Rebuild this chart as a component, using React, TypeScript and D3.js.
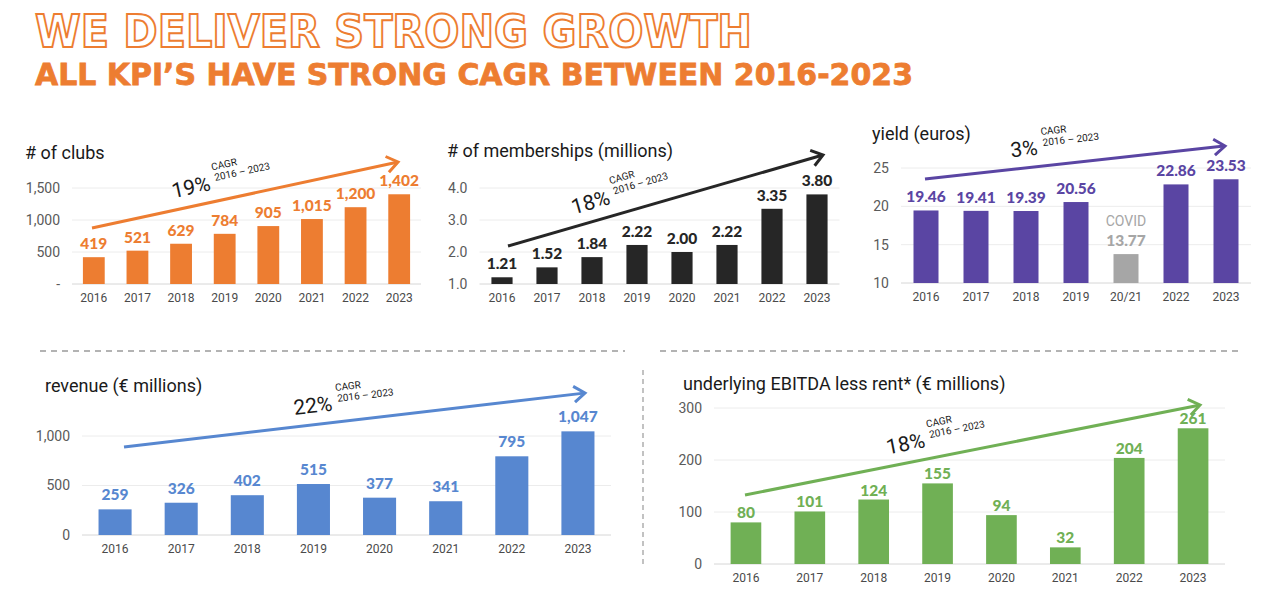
import React from 'react';
import * as d3 from 'd3';

// ---------- DATA ----------
const years = ['2016', '2017', '2018', '2019', '2020', '2021', '2022', '2023'];
const yieldYears = ['2016', '2017', '2018', '2019', '20/21', '2022', '2023'];
const clubs = [419, 521, 629, 784, 905, 1015, 1200, 1402];
const memberships = [1.21, 1.52, 1.84, 2.22, 2.0, 2.22, 3.35, 3.8];
const yields = [19.46, 19.41, 19.39, 20.56, 13.77, 22.86, 23.53];
const revenue = [259, 326, 402, 515, 377, 341, 795, 1047];
const ebitda = [80, 101, 124, 155, 94, 32, 204, 261];

const clubTicks = [0, 500, 1000, 1500];
const membershipTicks = [1, 2, 3, 4];
const yieldTicks = [10, 15, 20, 25];
const revenueTicks = [0, 500, 1000];
const ebitdaTicks = [0, 100, 200, 300];

const cagrValues = ['19%', '18%', '3%', '22%', '18%'];
const cagrPeriod = '2016 – 2023';
const covidCategory = '20/21';
const covidNote = 'COVID';

// ---------- STYLE ----------
const ORANGE = '#ED7D31';
const BLACK = '#262626';
const PURPLE = '#5A45A3';
const GREY = '#A6A6A6';
const BLUE = '#5787D0';
const GREEN = '#70B055';
const AXIS_FONT = 'Roboto, "Noto Sans", sans-serif';
const VALUE_FONT = 'Lato, Roboto, sans-serif';

type PanelProps = {
  title: string;
  titleX: number;
  titleY: number;
  cats: string[];
  values: number[];
  ticks: number[];
  domain: [number, number];
  tickFmt: (d: number) => string;
  valueFmt: (d: number) => string;
  color: string;
  xRange: [number, number];
  yRange: [number, number];
  padding: number;
  labelGap: number;
  cagr: string;
  arrow: [number, number, number, number];
  pctAlong: number;
  specialCat?: string;
};

function Arrow({ arrow, color, cagr, pctAlong }: { arrow: [number, number, number, number]; color: string; cagr: string; pctAlong: number }) {
  const [x1, y1, x2, y2] = arrow;
  const len = Math.hypot(x2 - x1, y2 - y1);
  const ang = (Math.atan2(y2 - y1, x2 - x1) * 180) / Math.PI;
  const pctW = cagr.length * 11.5;
  return (
    <g transform={`translate(${x1},${y1}) rotate(${ang})`}>
      <line x1={0} y1={0} x2={len - 1} y2={0} stroke={color} strokeWidth={3} />
      <path d={`M${len - 11},${-8} L${len},0 L${len - 11},${8}`} fill="none" stroke={color} strokeWidth={3} strokeLinejoin="miter" />
      <text x={pctAlong} y={-12} fontFamily={AXIS_FONT} fontSize={21} fill="#1a1a1a">{cagr}</text>
      <text x={pctAlong + pctW + 9} y={-31} fontFamily={AXIS_FONT} fontSize={10} fill="#1a1a1a">CAGR</text>
      <text x={pctAlong + pctW + 10} y={-20} fontFamily={AXIS_FONT} fontSize={10} fill="#1a1a1a">{cagrPeriod}</text>
    </g>
  );
}

function Panel(p: PanelProps) {
  const x = d3.scaleBand<string>().domain(p.cats).range(p.xRange).paddingInner(p.padding).paddingOuter(p.padding / 2);
  const y = d3.scaleLinear().domain(p.domain).range(p.yRange);
  const [gx0, gx1] = p.xRange;
  return (
    <g>
      <text x={p.titleX} y={p.titleY} fontFamily={AXIS_FONT} fontSize={18} fill="#1a1a1a">{p.title}</text>
      {p.ticks.map((t, i) => (
        <g key={t}>
          <line x1={gx0} x2={gx1} y1={y(t)} y2={y(t)} stroke={i === 0 ? '#d6d6d6' : '#ececec'} strokeWidth={1} />
          <text x={gx0 - 12} y={y(t)} dy="0.35em" textAnchor="end" fontFamily={AXIS_FONT} fontSize={14} fill="#5a5a5a">{p.tickFmt(t)}</text>
        </g>
      ))}
      {p.cats.map((c, i) => {
        const v = p.values[i];
        const special = c === p.specialCat;
        const col = special ? GREY : p.color;
        const bx = x(c) as number;
        const top = y(v);
        return (
          <g key={c}>
            <rect x={bx} y={top} width={x.bandwidth()} height={y(p.domain[0]) - top} fill={col} />
            <text x={bx + x.bandwidth() / 2} y={top - p.labelGap} textAnchor="middle" fontFamily={VALUE_FONT} fontWeight={900} fontSize={15.5} fill={col}>{p.valueFmt(v)}</text>
            {special && (
              <text x={bx + x.bandwidth() / 2} y={top - p.labelGap - 20} textAnchor="middle" fontFamily={AXIS_FONT} fontSize={14} fill={GREY}>{covidNote}</text>
            )}
            <text x={bx + x.bandwidth() / 2} y={y(p.domain[0]) + 18} textAnchor="middle" fontFamily={AXIS_FONT} fontSize={12} fill="#4a4a4a">{c}</text>
          </g>
        );
      })}
      <Arrow arrow={p.arrow} color={p.specialCat ? PURPLE : p.color} cagr={p.cagr} pctAlong={p.pctAlong} />
    </g>
  );
}

export default function App() {
  const comma = d3.format(',');
  const f2 = d3.format('.2f');
  const f1 = d3.format('.1f');
  return (
    <svg width={1280} height={603} style={{ position: 'absolute', left: 0, top: 0, background: '#fff' }}>
      <rect width={1280} height={603} fill="#fff" />
      <text x={35} y={47} fontFamily='"DejaVu Sans", sans-serif' fontWeight={700} fontSize={45} fill="#fff" stroke={ORANGE} strokeWidth={2} textLength={717} lengthAdjust="spacingAndGlyphs">WE DELIVER STRONG GROWTH</text>
      <text x={35} y={85} fontFamily='"DejaVu Sans", sans-serif' fontWeight={700} fontSize={31} fill={ORANGE} stroke={ORANGE} strokeWidth={0.8} textLength={878} lengthAdjust="spacingAndGlyphs">ALL KPI’S HAVE STRONG CAGR BETWEEN 2016-2023</text>

      <Panel title="# of clubs" titleX={25} titleY={159} cats={years} values={clubs} ticks={clubTicks} domain={[0, 1500]}
        tickFmt={(d) => (d === 0 ? '-' : comma(d))} valueFmt={comma} color={ORANGE} xRange={[72, 421]} yRange={[284, 188]}
        padding={0.5} labelGap={8} cagr={cagrValues[0]} arrow={[92, 228, 398, 162]} pctAlong={86} />
      <Panel title="# of memberships (millions)" titleX={447} titleY={157} cats={years} values={memberships} ticks={membershipTicks} domain={[1, 4]}
        tickFmt={f1} valueFmt={f2} color={BLACK} xRange={[479.5, 839.5]} yRange={[284, 188]}
        padding={0.53} labelGap={8} cagr={cagrValues[1]} arrow={[508, 246, 823, 155]} pctAlong={72} />
      <Panel title="yield (euros)" titleX={872} titleY={140} cats={yieldYears} values={yields} ticks={yieldTicks} domain={[10, 25]}
        tickFmt={(d) => String(d)} valueFmt={f2} color={PURPLE} xRange={[901, 1251]} yRange={[283, 168]}
        padding={0.5} labelGap={8} cagr={cagrValues[2]} arrow={[925, 179, 1225, 146]} pctAlong={88} specialCat={covidCategory} />

      <line x1={40} x2={625} y1={351} y2={351} stroke="#9a9a9a" strokeDasharray="6,5" strokeWidth={1.3} />
      <line x1={660} x2={1242} y1={351} y2={351} stroke="#9a9a9a" strokeDasharray="6,5" strokeWidth={1.3} />
      <line x1={643} x2={643} y1={370} y2={568} stroke="#9a9a9a" strokeDasharray="5,4" strokeWidth={1.2} />

      <Panel title="revenue (€ millions)" titleX={45} titleY={392} cats={years} values={revenue} ticks={revenueTicks} domain={[0, 1000]}
        tickFmt={comma} valueFmt={comma} color={BLUE} xRange={[82, 611]} yRange={[535, 436]}
        padding={0.5} labelGap={9} cagr={cagrValues[3]} arrow={[124, 447, 585, 393]} pctAlong={173} />
      <Panel title="underlying EBITDA less rent* (€ millions)" titleX={683} titleY={390} cats={years} values={ebitda} ticks={ebitdaTicks} domain={[0, 300]}
        tickFmt={(d) => String(d)} valueFmt={(d) => String(d)} color={GREEN} xRange={[714, 1225]} yRange={[564, 408]}
        padding={0.52} labelGap={4} cagr={cagrValues[4]} arrow={[745, 495, 1200, 405]} pctAlong={148} />
    </svg>
  );
}
